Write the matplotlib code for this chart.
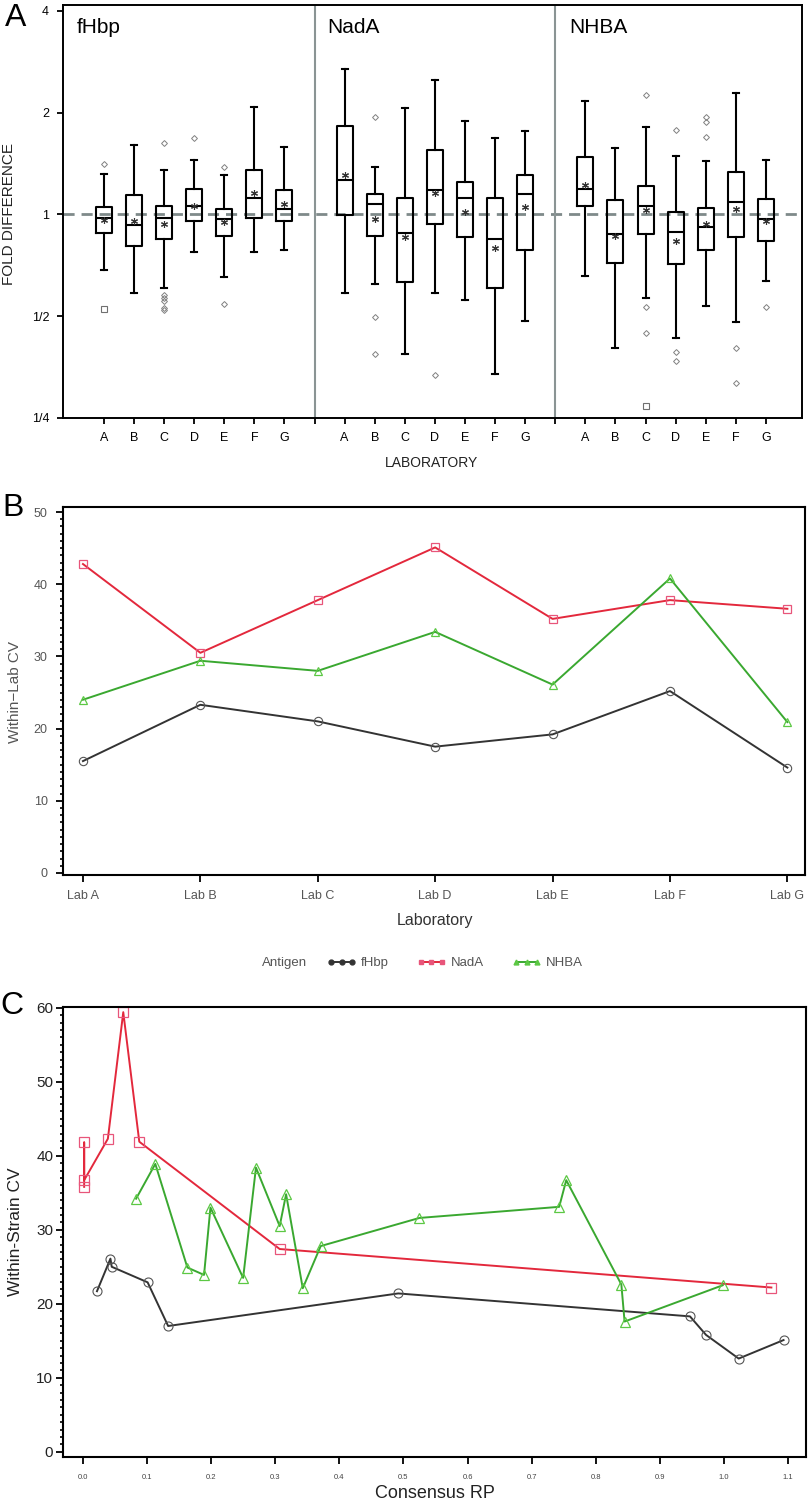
import numpy as np
import matplotlib.pyplot as plt
from matplotlib.lines import Line2D
from matplotlib.ticker import MultipleLocator, FixedLocator

plt.rcParams['font.family'] = ['Liberation Sans', 'DejaVu Sans']

# ---------------- panel A : fold difference box plots ----------------
labs = ["A", "B", "C", "D", "E", "F", "G"]
antigens = ["fHbp", "NadA", "NHBA"]

fhbp_whishi = [1.32, 1.60, 1.35, 1.45, 1.31, 2.08, 1.58]
fhbp_q3 = [1.05, 1.14, 1.06, 1.19, 1.035, 1.35, 1.18]
fhbp_med = [0.975, 0.93, 0.973, 1.056, 0.966, 1.12, 1.04]
fhbp_q1 = [0.878, 0.804, 0.843, 0.953, 0.861, 0.973, 0.953]
fhbp_whislo = [0.687, 0.587, 0.607, 0.772, 0.655, 0.772, 0.782]
fhbp_mean = [0.96, 0.953, 0.934, 1.06, 0.947, 1.154, 1.07]
fhbp_out = [[1.41], [], [1.63, 0.579, 0.567, 0.556, 0.530, 0.523], [1.68], [1.38, 0.545], [], []]
fhbp_far = [[0.526], [], [], [], [], [], []]

nada_whishi = [2.69, 1.38, 2.06, 2.50, 1.89, 1.68, 1.76]
nada_q3 = [1.82, 1.146, 1.115, 1.55, 1.244, 1.115, 1.31]
nada_med = [1.26, 1.07, 0.878, 1.178, 1.115, 0.843, 1.146]
nada_q1 = [0.993, 0.861, 0.629, 0.934, 0.855, 0.607, 0.787]
nada_whislo = [0.587, 0.624, 0.387, 0.587, 0.56, 0.338, 0.485]
nada_mean = [1.31, 0.966, 0.855, 1.154, 1.014, 0.793, 1.05]
nada_out = [[], [1.94, 0.497, 0.387], [], [0.335], [], [], []]
nada_far = [[], [], [], [], [], [], []]

nhba_whishi = [2.16, 1.57, 1.81, 1.49, 1.44, 2.29, 1.45]
nhba_q3 = [1.48, 1.10, 1.21, 1.014, 1.042, 1.33, 1.108]
nhba_med = [1.186, 0.872, 1.056, 0.884, 0.915, 1.085, 0.966]
nhba_q1 = [1.056, 0.716, 0.872, 0.711, 0.782, 0.855, 0.837]
nhba_whislo = [0.659, 0.403, 0.567, 0.432, 0.537, 0.482, 0.637]
nhba_mean = [1.22, 0.866, 1.028, 0.837, 0.934, 1.035, 0.953]
nhba_out = [[], [], [2.25, 0.533, 0.446], [1.775, 0.393, 0.369], [1.94, 1.874, 1.69], [0.403, 0.318], [0.533]]
nhba_far = [[], [], [0.271], [], [], [], []]

# ---------------- panel B : within-lab CV ----------------
lab_names = ["Lab A", "Lab B", "Lab C", "Lab D", "Lab E", "Lab F", "Lab G"]
cv_lab_fhbp = [15.5, 23.3, 21.0, 17.5, 19.2, 25.2, 14.6]
cv_lab_nada = [42.8, 30.5, 37.8, 45.1, 35.2, 37.8, 36.6]
cv_lab_nhba = [24.0, 29.4, 28.0, 33.4, 26.1, 40.8, 20.9]

# ---------------- panel C : within-strain CV vs consensus RP ----------------
rp_fhbp = [0.022, 0.043, 0.045, 0.101, 0.133, 0.492, 0.947, 0.972, 1.023, 1.093]
cv_strain_fhbp = [21.7, 26.1, 25.0, 22.9, 17.0, 21.4, 18.3, 15.8, 12.6, 15.1]
rp_nada = [0.002, 0.002, 0.002, 0.039, 0.063, 0.088, 0.307, 1.074]
cv_strain_nada = [35.8, 41.8, 36.7, 42.3, 59.4, 41.9, 27.4, 22.2]
rp_nhba = [0.083, 0.113, 0.163, 0.189, 0.199, 0.250, 0.270, 0.307, 0.317, 0.343,
           0.371, 0.525, 0.743, 0.754, 0.840, 0.845, 0.998]
cv_strain_nhba = [34.2, 38.9, 24.9, 23.9, 33.0, 23.5, 38.4, 30.5, 34.8, 22.1,
                  27.8, 31.6, 33.1, 36.7, 22.6, 17.6, 22.5]

black = "#333333"
red = "#e3283c"
pink = "#e8557a"
green = "#3aa830"
lgreen = "#5cc844"
grey = "#555555"

W, H = 810, 1503
fig = plt.figure(figsize=(W / 100, H / 100), dpi=100)


def ax_rect(l, r, t, b):
    # pixel box -> figure fraction
    return [l / W, 1 - b / H, (r - l) / W, (b - t) / H]


# ======== A ========
axA = fig.add_axes(ax_rect(63, 802, 5, 418))
groups = [
    (fhbp_whislo, fhbp_q1, fhbp_med, fhbp_q3, fhbp_whishi, fhbp_mean, fhbp_out, fhbp_far),
    (nada_whislo, nada_q1, nada_med, nada_q3, nada_whishi, nada_mean, nada_out, nada_far),
    (nhba_whislo, nhba_q1, nhba_med, nhba_q3, nhba_whishi, nhba_mean, nhba_out, nhba_far),
]
positions = []
stats = []
out_x, out_y, far_x, far_y = [], [], [], []
for g, (wl, q1, md, q3, wh, mn, out, far) in enumerate(groups):
    for i in range(len(labs)):
        p = g * 8 + i + 1
        positions.append(p)
        stats.append(dict(whislo=wl[i], q1=q1[i], med=md[i], q3=q3[i], whishi=wh[i],
                          mean=mn[i], fliers=[]))
        out_x += [p] * len(out[i])
        out_y += out[i]
        far_x += [p] * len(far[i])
        far_y += far[i]

axA.axhline(1.0, color="#7f8a8a", lw=2, ls=(0, (4, 2.5)), zorder=1)
axA.bxp(stats, positions=positions, widths=0.53, showmeans=True, patch_artist=False,
        boxprops=dict(color="black", lw=1.5),
        whiskerprops=dict(color="black", lw=1.5),
        capprops=dict(color="black", lw=1.5),
        medianprops=dict(color="black", lw=1.5),
        meanprops=dict(marker=(6, 2, 0), markersize=5, markeredgecolor=black,
                       markerfacecolor="none", markeredgewidth=0.8),
        capwidths=0.2, manage_ticks=False)
axA.plot(out_x, out_y, ls="none", marker="D", ms=3, mfc="none", mec="#808080", mew=0.7)
axA.plot(far_x, far_y, ls="none", marker="s", ms=4.2, mfc="none", mec="#707070", mew=0.8)
for d in (8, 16):
    axA.axvline(d, color="#8a9494", lw=1.5)

axA.set_yscale("log", base=2)
axA.set_ylim(0.25, 4.16)
axA.set_xlim(-0.36, 24.2)
axA.yaxis.set_major_locator(FixedLocator([0.25, 0.5, 1, 2, 4]))
axA.yaxis.set_minor_locator(FixedLocator([]))
axA.set_yticklabels(["1/4", "1/2", "1", "2", "4"])
axA.set_xticks(positions + [8, 16])
axA.set_xticklabels(labs * 3 + ["", ""])
axA.tick_params(axis="both", labelsize=9, length=4, width=1.3, color="black", pad=6)
for s in axA.spines.values():
    s.set_linewidth(1.4)
for name, px in zip(antigens, (77, 327, 569)):
    fig.text(px / W, 1 - 33 / H, name, fontsize=15, ha="left", va="baseline")

fig.text(9 / W, 1 - 214 / H, "FOLD DIFFERENCE", rotation=90, fontsize=11,
         ha="center", va="center", color="#222222")
fig.text(432 / W, 1 - 463 / H, "LABORATORY", fontsize=10, ha="center", va="center",
         color="#222222")
fig.text(16 / W, 1 - 18 / H, "A", fontsize=23, ha="center", va="center")

# ======== B ========
axB = fig.add_axes(ax_rect(63, 805, 507, 875))
xb = np.arange(len(lab_names))
axB.plot(xb, cv_lab_fhbp, color=black, lw=1.4, marker="o", ms=6, mfc="none", mec="#555555", mew=0.8)
axB.plot(xb, cv_lab_nada, color=red, lw=1.4, marker="s", ms=6, mfc="none", mec=pink, mew=0.9)
axB.plot(xb, cv_lab_nhba, color=green, lw=1.4, marker="^", ms=6, mfc="none", mec=lgreen, mew=0.9)
axB.set_xlim(-0.17, 6.15)
axB.set_ylim(-0.28, 50.7)
axB.set_xticks(xb)
axB.set_xticklabels(lab_names)
axB.yaxis.set_major_locator(MultipleLocator(10))
axB.yaxis.set_minor_locator(MultipleLocator(1))
axB.tick_params(axis="both", which="major", labelsize=9, labelcolor=grey, length=5, width=1.3, pad=6)
axB.tick_params(axis="y", which="minor", length=2.5, width=1.2)
for s in axB.spines.values():
    s.set_linewidth(1.5)
fig.text(15 / W, 1 - 692 / H, "Within\u2212Lab CV", rotation=90, fontsize=11,
         ha="center", va="center", color=grey)
fig.text(435 / W, 1 - 921 / H, "Laboratory", fontsize=11.5, ha="center", va="center", color="#333333")
fig.text(13 / W, 1 - 508 / H, "B", fontsize=23, ha="center", va="center")

fig.text(285 / W, 1 - 963 / H, "Antigen", fontsize=9.5, ha="center", va="center", color=grey)
handles = [
    Line2D([], [], color=black, lw=1.4, marker="o", ms=3.5, mfc=black, mec=black),
    Line2D([], [], color=red, lw=1.4, marker="s", ms=3.5, mfc=pink, mec=pink),
    Line2D([], [], color=green, lw=1.4, marker="^", ms=3.5, mfc=lgreen, mec=lgreen),
]
fig.legend(handles, antigens, loc="center left", bbox_to_anchor=(327 / W, 1 - 963 / H),
           ncol=3, frameon=False, numpoints=3, fontsize=9.5, handlelength=2.2,
           handletextpad=0.4, columnspacing=2.1, borderpad=0, borderaxespad=0,
           labelcolor=grey)

# ======== C ========
axC = fig.add_axes(ax_rect(63, 806, 1007, 1457))
axC.plot(rp_fhbp, cv_strain_fhbp, color=black, lw=1.4, marker="o", ms=6.5, mfc="none", mec="#555555", mew=0.8)
axC.plot(rp_nada, cv_strain_nada, color=red, lw=1.4, marker="s", ms=6.5, mfc="none", mec=pink, mew=0.9)
axC.plot(rp_nhba, cv_strain_nhba, color=green, lw=1.4, marker="^", ms=6.5, mfc="none", mec=lgreen, mew=0.9)
axC.set_xlim(-0.031, 1.128)
axC.set_ylim(-0.7, 60.1)
xt = np.round(np.arange(0, 1.15, 0.1), 1)
axC.set_xticks(xt)
axC.set_xticklabels(["%.1f" % v for v in xt])
axC.yaxis.set_major_locator(MultipleLocator(10))
axC.yaxis.set_minor_locator(MultipleLocator(1))
axC.tick_params(axis="x", which="major", labelsize=5.5, labelcolor="#444444", length=5, width=1.3, pad=7)
axC.tick_params(axis="y", which="major", labelsize=11, labelcolor="#222222", length=5, width=1.3, pad=2)
axC.tick_params(axis="y", which="minor", length=2.5, width=1.2)
for s in axC.spines.values():
    s.set_linewidth(1.5)
fig.text(16 / W, 1 - 1232 / H, "Within-Strain CV", rotation=90, fontsize=12.5,
         ha="center", va="center", color="#222222")
fig.text(435 / W, 1 - 1494 / H, "Consensus RP", fontsize=13, ha="center", va="center", color="#222222")
fig.text(12 / W, 1 - 1006 / H, "C", fontsize=23, ha="center", va="center")

fig.savefig("out.png", dpi=100)
